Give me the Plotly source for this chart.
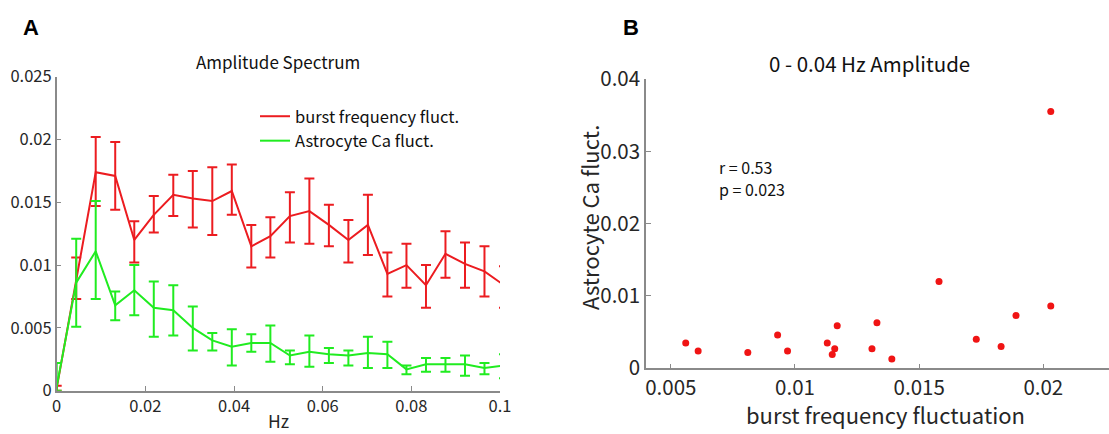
import plotly.graph_objects as go

# ---- Panel A data: amplitude spectrum (mean, upper and lower error bounds) ----
freq_hz = [0.0, 0.0044, 0.0088, 0.0132, 0.0175, 0.0219, 0.0263, 0.0307, 0.0351, 0.0395,
           0.0439, 0.0482, 0.0526, 0.0570, 0.0614, 0.0658, 0.0702, 0.0746, 0.0789, 0.0833,
           0.0877, 0.0921, 0.0965, 0.1009]

burst_mean = [0.0002, 0.0089, 0.0174, 0.0171, 0.0120, 0.0140, 0.0156, 0.0153, 0.0151, 0.0159,
              0.0115, 0.0123, 0.0139, 0.0143, 0.0132, 0.0120, 0.0132, 0.0093, 0.0100, 0.0084,
              0.0109, 0.0101, 0.0095, 0.0084]
burst_upper = [0.0004, 0.0106, 0.0202, 0.0198, 0.0135, 0.0155, 0.0172, 0.0175, 0.0178, 0.0180,
               0.0132, 0.0138, 0.0158, 0.0169, 0.0148, 0.0136, 0.0156, 0.0110, 0.0117, 0.0100,
               0.0127, 0.0118, 0.0115, 0.0099]
burst_lower = [0.0000, 0.0073, 0.0147, 0.0144, 0.0102, 0.0126, 0.0139, 0.0130, 0.0124, 0.0140,
               0.0098, 0.0106, 0.0118, 0.0117, 0.0115, 0.0102, 0.0108, 0.0075, 0.0082, 0.0066,
               0.0090, 0.0082, 0.0075, 0.0066]

astro_mean = [0.0003, 0.0086, 0.0111, 0.0068, 0.0080, 0.0066, 0.0064, 0.0050, 0.0040, 0.0035,
              0.0038, 0.0038, 0.0028, 0.0031, 0.0029, 0.0028, 0.0030, 0.0029, 0.0017, 0.0021,
              0.0021, 0.0021, 0.0018, 0.0020]
astro_upper = [0.0022, 0.0121, 0.0151, 0.0079, 0.0100, 0.0087, 0.0084, 0.0067, 0.0046, 0.0049,
               0.0045, 0.0052, 0.0032, 0.0044, 0.0034, 0.0032, 0.0043, 0.0039, 0.0020, 0.0026,
               0.0026, 0.0028, 0.0022, 0.0029]
astro_lower = [0.0000, 0.0051, 0.0073, 0.0056, 0.0060, 0.0043, 0.0044, 0.0032, 0.0032, 0.0020,
               0.0031, 0.0023, 0.0021, 0.0019, 0.0022, 0.0020, 0.0018, 0.0018, 0.0013, 0.0015,
               0.0015, 0.0012, 0.0013, 0.0010]

# ---- Panel B data: 0-0.04 Hz amplitude scatter ----
burst_amp = [0.0056, 0.0061, 0.0081, 0.0093, 0.0097, 0.0113, 0.0115, 0.0116, 0.0117, 0.0131,
             0.0133, 0.0139, 0.0158, 0.0173, 0.0183, 0.0189, 0.0203, 0.0203]
astro_amp = [0.0035, 0.0024, 0.0022, 0.0046, 0.0024, 0.0035, 0.0019, 0.0027, 0.0059, 0.0027,
             0.0063, 0.0013, 0.0120, 0.0040, 0.0030, 0.0073, 0.0086, 0.0355]

legend_names = ["burst frequency fluct.", "Astrocyte Ca fluct."]
stats_lines = ["r = 0.53", "p = 0.023"]

RED = "rgb(236,28,32)"
GREEN = "rgb(32,236,32)"
AXIS = "#8a8a8a"
TXT = "#262626"
FONT = "Noto Sans CJK JP"

W, H = 1109, 434

def px_dom_x(a, b):
    return [a / W, b / W]

def px_dom_y(top, bottom):
    return [1 - bottom / H, 1 - top / H]

fig = go.Figure()

for mean, up, lo, col, name in [(burst_mean, burst_upper, burst_lower, RED, legend_names[0]),
                                (astro_mean, astro_upper, astro_lower, GREEN, legend_names[1])]:
    fig.add_trace(go.Scatter(
        x=freq_hz, y=mean, mode="lines", name=name,
        line=dict(color=col, width=2),
        error_y=dict(type="data", symmetric=False,
                     array=[u - m for u, m in zip(up, mean)],
                     arrayminus=[m - l for m, l in zip(mean, lo)],
                     color=col, thickness=2, width=5),
        xaxis="x", yaxis="y",
    ))

fig.add_trace(go.Scatter(
    x=burst_amp, y=astro_amp, mode="markers", showlegend=False,
    marker=dict(color="rgb(240,20,20)", size=7),
    xaxis="x2", yaxis="y2",
))

common_axis = dict(showline=True, linecolor=AXIS, linewidth=1.5, ticks="inside",
                   tickcolor=AXIS, ticklen=5, showgrid=False, zeroline=False,
                   mirror=False, automargin=False)

fig.update_layout(
    width=W, height=H,
    margin=dict(l=0, r=0, t=0, b=0),
    paper_bgcolor="white", plot_bgcolor="white",
    font=dict(family=FONT, color=TXT),
    xaxis=dict(domain=px_dom_x(56.7, 500), range=[0, 0.1],
               tickvals=[0, 0.02, 0.04, 0.06, 0.08, 0.1],
               ticktext=["0", "0.02", "0.04", "0.06", "0.08", "0.1"],
               tickfont=dict(size=16.5, color=TXT), anchor="y",
               **common_axis),
    yaxis=dict(domain=px_dom_y(76.7, 390.7), range=[0, 0.025],
               tickvals=[0, 0.005, 0.01, 0.015, 0.02, 0.025],
               ticktext=["0", "0.005", "0.01", "0.015", "0.02", "0.025"],
               tickfont=dict(size=16.5, color=TXT), anchor="x",
               **common_axis),
    xaxis2=dict(domain=px_dom_x(646, 1109), range=[0.004, 0.022645],
                tickvals=[0.005, 0.01, 0.015, 0.02],
                ticktext=["0.005", "0.01", "0.015", "0.02"],
                tickfont=dict(size=20.5, color=TXT), anchor="y2",
                **common_axis),
    yaxis2=dict(domain=px_dom_y(79, 368.3), range=[0, 0.04],
                tickvals=[0, 0.01, 0.02, 0.03, 0.04],
                ticktext=["0", "0.01", "0.02", "0.03", "0.04"],
                tickfont=dict(size=20.5, color=TXT), anchor="x2",
                **common_axis),
    legend=dict(x=255 / W, y=1 - 99 / H, xanchor="left", yanchor="top",
                bgcolor="rgba(255,255,255,0.9)", borderwidth=0,
                font=dict(size=16.5, color="#111111"), tracegroupgap=0,
                itemwidth=30),
    showlegend=True,
)

def ann(text, x, y, size, color="#111111", family=None, angle=0, xanchor="center"):
    f = dict(size=size, color=color)
    if family:
        f["family"] = family
    return dict(text=text, x=x / W, y=1 - y / H, xref="paper", yref="paper",
                showarrow=False, font=f, textangle=angle, borderpad=0,
                xanchor=xanchor, yanchor="middle", align="left")

annotations = [
    ann("<b>A</b>", 31, 28, 22, "black", "Liberation Sans"),
    ann("<b>B</b>", 631, 28, 22, "black", "Liberation Sans"),
    ann("Amplitude Spectrum", 278, 62, 17),
    ann("0 - 0.04 Hz Amplitude", 869, 63, 20.5),
    ann("Hz", 278, 420, 17.5, TXT),
    ann("burst frequency fluctuation", 885, 414, 22, TXT),
    ann("Astrocyte Ca fluct.", 589, 218, 22, TXT, angle=-90),
    ann(stats_lines[0], 718, 167, 16, xanchor="left"),
    ann(stats_lines[1], 718, 189, 16, xanchor="left"),
]
fig.update_layout(annotations=annotations)

fig.write_html("out.html", config={"displayModeBar": False},
               post_script="document.body.style.margin='0';document.body.style.padding='0';")
